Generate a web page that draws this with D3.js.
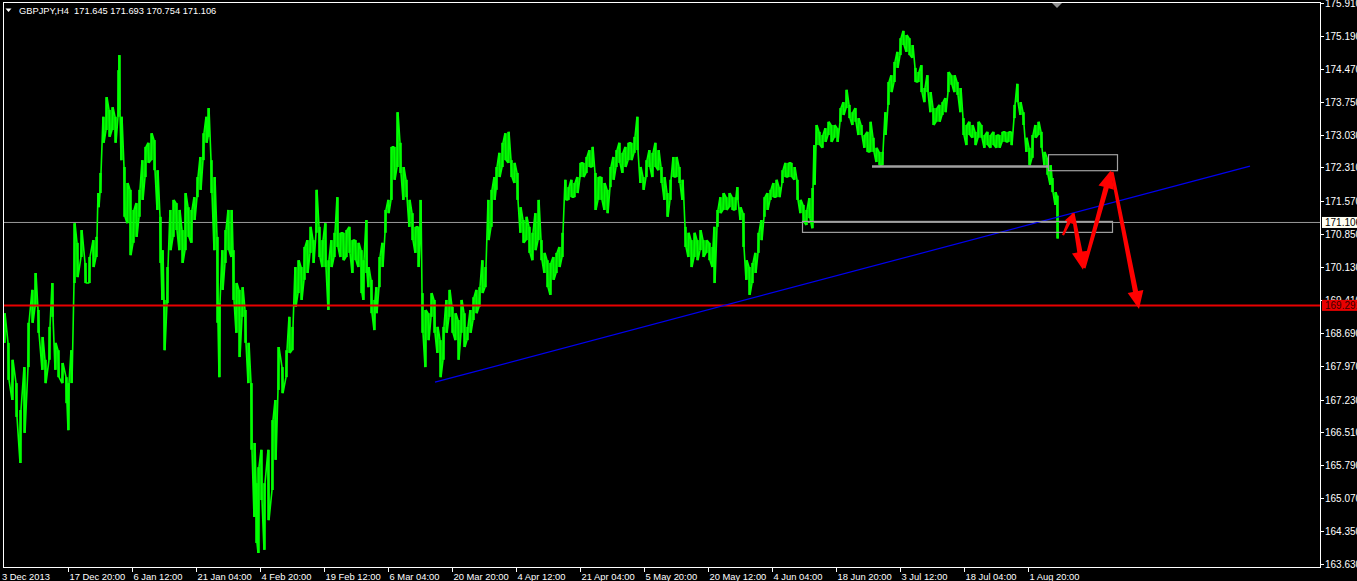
<!DOCTYPE html>
<html><head><meta charset="utf-8">
<script src="https://cdn.jsdelivr.net/npm/d3@7"></script>
<style>html,body{margin:0;padding:0;background:#000;overflow:hidden}</style>
</head><body><svg id="c" width="1357" height="581"></svg>
<script>
// ---------------- DATA ----------------
const titleText = "GBPJPY,H4  171.645 171.693 170.754 171.106";
const tickBars = [0,65,129,193,257,321,385,449,513,577,641,705,769,833,897,961,1025];
const tickLabels = ["3 Dec 2013","17 Dec 20:00","6 Jan 12:00","21 Jan 04:00","4 Feb 20:00","19 Feb 12:00","6 Mar 04:00","20 Mar 20:00","4 Apr 12:00","21 Apr 04:00","5 May 20:00","20 May 12:00","4 Jun 04:00","18 Jun 20:00","3 Jul 12:00","18 Jul 04:00","1 Aug 20:00"];
const priceTicks = [175.910,175.190,174.470,173.750,173.030,172.310,171.570,170.850,170.130,169.410,168.690,167.970,167.230,166.510,165.790,165.070,164.350,163.630];
const priceMin = 163.63, priceMax = 175.91, barCount = 1317;

const bars = [1,5,9,13,17,21,25,29,32,35,39,42,46,49,52,55,59,63,65,68,71,74,78,82,86,90,93,95,97,100,103,106,109,112,115,116,118,121,124,127,130,133,136,139,142,145,148,151,154,157,159,161,164,167,170,173,176,179,182,185,188,191,194,197,200,203,205,208,211,214,216,219,222,225,228,230,233,236,239,242,245,248,251,253,255,258,261,265,269,272,275,279,283,286,289,292,295,298,301,304,307,310,313,316,319,322,325,328,331,334,337,340,343,346,349,352,355,358,360,363,365,368,371,373,376,379,382,385,388,391,394,397,400,403,406,409,412,415,417,419,422,425,428,431,434,437,440,443,446,449,452,455,458,461,464,467,470,473,476,479,482,485,488,491,493,496,499,502,505,508,511,514,517,520,523,526,529,532,535,538,541,544,547,550,553,556,559,562,565,568,571,574,577,580,583,586,589,592,595,598,601,604,607,610,613,616,619,622,625,628,631,634,637,640,643,646,649,652,655,658,661,664,667,670,673,676,679,682,685,688,691,694,697,700,703,706,709,711,714,717,720,723,726,729,732,734,737,740,743,746,749,752,755,758,761,764,767,770,773,776,779,782,785,788,791,794,797,800,803,806,809,811,813,816,819,822,825,828,831,834,837,840,843,846,849,852,855,858,861,864,867,870,873,876,879,882,885,888,891,894,897,900,903,906,909,912,915,918,921,924,927,930,933,936,939,942,945,948,951,954,957,960,963,966,969,972,975,978,981,984,987,990,993,996,999,1002,1005,1008,1011,1014,1017,1020,1023,1026,1029,1032,1035,1038,1041,1044,1047,1049,1052,1054];
const highs = [169.12,168.47,168.10,167.59,167.00,167.94,168.91,169.63,170.00,169.19,168.60,168.10,168.82,169.78,168.47,168.31,168.03,167.72,167.59,168.31,171.09,170.66,170.94,170.22,170.35,170.72,170.79,171.75,172.19,173.42,173.85,173.57,173.63,173.42,174.44,174.77,173.42,172.32,171.97,171.82,171.38,171.53,171.82,172.47,172.76,172.85,173.06,172.91,172.25,171.23,170.50,169.41,170.13,171.38,171.60,171.53,171.38,170.94,171.75,171.44,171.38,171.66,172.10,172.54,173.06,173.42,173.61,172.47,172.10,170.79,169.34,170.50,170.94,171.38,171.38,170.50,169.78,169.63,169.69,169.19,168.47,167.59,166.28,165.40,165.75,166.13,165.40,166.13,166.78,167.22,168.38,167.94,168.31,169.04,168.82,170.13,170.28,170.13,170.57,170.72,171.01,170.72,171.82,171.01,170.72,171.09,170.28,170.72,170.88,171.66,170.88,170.88,170.94,171.01,170.72,170.72,170.66,170.50,170.28,171.16,170.13,169.85,169.41,169.69,170.35,170.66,171.38,171.60,172.76,172.76,173.52,172.85,172.32,172.04,171.60,171.31,171.01,171.01,171.60,169.56,169.19,169.12,169.56,169.41,168.82,168.53,168.82,169.41,169.63,169.26,169.12,168.97,169.41,169.12,168.82,169.19,169.47,169.63,169.69,170.28,170.13,171.60,171.82,172.10,172.32,172.63,172.85,173.06,173.09,172.47,172.41,172.19,171.44,171.16,171.23,171.01,170.88,171.31,171.60,170.72,170.44,170.28,170.22,170.35,170.44,170.57,170.88,172.04,171.88,172.04,171.97,172.10,172.41,172.41,172.54,172.69,172.76,172.19,172.10,172.10,171.97,171.82,172.32,172.54,172.69,172.85,172.63,172.76,172.85,172.85,172.98,173.42,172.32,172.10,172.47,172.69,172.63,172.85,172.69,172.32,172.10,171.75,172.04,172.54,172.54,172.32,172.04,171.01,170.88,170.72,170.88,170.72,170.94,170.72,170.72,170.66,170.57,171.01,171.38,171.66,171.75,171.66,171.75,171.66,171.66,171.88,171.44,171.31,170.28,170.13,170.22,170.44,170.88,171.16,171.66,171.75,171.82,171.97,172.04,171.88,172.25,172.41,172.41,172.41,172.32,172.04,171.60,171.49,171.38,171.64,171.86,172.80,173.24,173.09,173.02,173.17,173.31,173.24,173.24,173.17,173.61,173.74,174.01,173.68,173.52,173.61,173.39,173.24,173.02,173.09,173.31,172.96,172.74,172.65,172.65,173.52,174.18,174.33,174.62,174.84,175.14,175.30,175.21,175.14,174.99,174.49,174.40,174.55,174.05,174.33,173.96,173.61,173.61,173.68,173.74,173.83,174.40,174.33,174.33,174.18,174.05,173.39,173.24,173.31,173.24,173.09,173.31,173.24,173.02,173.09,173.02,173.09,173.02,173.02,173.09,173.09,173.09,173.09,173.68,174.14,173.74,173.52,172.96,172.74,173.02,173.24,173.31,173.09,172.65,172.52,172.36,172.08,171.77,171.693];
const lows = [168.47,167.66,167.22,166.85,165.84,166.50,167.94,168.91,169.26,168.69,167.88,167.59,168.10,169.04,167.88,167.72,167.59,167.15,166.56,167.59,169.78,169.91,170.35,169.78,169.78,170.13,170.35,171.44,171.75,172.85,173.13,172.98,173.13,172.85,173.42,173.57,172.47,171.23,171.09,170.39,170.66,170.79,171.23,171.60,172.10,172.41,172.47,172.25,171.38,170.22,169.41,168.31,169.34,170.50,170.79,170.94,170.50,170.22,170.50,170.79,170.66,171.16,171.66,171.82,172.47,172.85,172.98,171.75,170.50,168.91,167.72,169.63,170.22,170.50,170.35,169.41,168.69,168.16,169.04,168.47,167.59,166.13,164.66,164.09,163.87,165.03,163.94,164.59,165.25,165.91,167.44,167.37,167.72,168.25,168.31,169.26,169.56,169.41,169.85,170.00,170.44,170.22,170.88,170.35,170.13,170.13,169.19,170.13,170.35,170.57,170.35,170.28,170.35,170.44,170.00,170.28,170.13,169.56,169.41,170.00,169.69,169.12,168.75,169.12,169.69,170.13,170.88,171.31,171.60,172.04,172.32,172.19,171.60,171.66,171.01,170.72,170.44,170.13,170.72,168.69,167.94,168.53,169.04,168.69,168.25,167.72,168.10,168.69,169.04,168.69,168.53,168.10,168.69,168.38,168.53,168.69,168.97,169.12,169.26,169.56,169.69,170.72,171.01,171.60,171.82,172.10,172.32,172.47,172.41,172.10,171.97,171.60,170.88,170.66,170.72,170.44,170.28,170.50,170.72,170.28,170.00,169.69,169.52,169.85,170.00,170.13,170.35,171.60,171.60,171.66,171.66,171.75,172.10,172.10,172.19,172.32,172.32,171.38,171.60,171.60,171.38,171.31,171.88,172.04,172.32,172.41,172.19,172.32,172.47,172.47,172.63,172.69,171.97,171.82,172.10,172.32,172.10,172.32,172.25,171.97,171.60,171.23,171.60,172.10,172.10,171.97,171.60,170.57,170.35,170.13,170.35,170.28,170.50,170.35,170.44,170.28,170.13,169.78,171.01,171.31,171.38,171.38,171.44,171.38,171.38,171.60,171.16,170.57,169.85,169.52,169.78,170.00,170.44,170.72,171.23,171.38,171.60,171.66,171.66,171.66,171.97,172.10,172.10,172.10,172.04,171.60,171.31,171.12,171.05,171.20,170.98,171.93,172.80,172.80,172.74,172.87,173.02,172.87,172.96,172.87,173.31,173.46,173.61,173.39,173.24,173.31,173.02,173.02,172.74,172.65,172.65,172.65,172.43,172.36,172.36,173.02,173.68,173.96,174.18,174.49,174.77,174.99,174.84,174.77,174.71,174.18,174.18,173.96,173.74,173.96,173.52,173.24,173.31,173.31,173.46,173.52,173.96,174.12,173.96,173.90,173.52,173.02,172.80,173.02,172.96,172.80,172.96,172.96,172.74,172.80,172.74,172.80,172.74,172.74,172.87,172.87,172.87,172.80,173.39,173.74,173.46,173.24,172.65,172.36,172.52,172.96,173.02,172.74,172.36,172.15,171.93,171.77,171.49,170.754];

const lastPrice = 171.106;
const targetPrice = 169.291;
const trendLine = [[432,167.61],[1247,172.34]];
const supportLine = [[869,172.33],[1045,172.33]];
const zoneUpper = [[1045,172.60],[1114,172.25]];
const zoneLower = [[799,171.14],[1109,170.90]];
const arrowFrom = [[1060,170.83],[1070,171.31],[1081,170.11],[1109,172.21]];
const arrowTo   = [[1070,171.31],[1080,170.07],[1108,172.25],[1136,169.21]];

// ---------------- DRAW ----------------
const W = 1357, H = 581;
const L = 3, R = 1320, T = 2, B = 567;
const svg = d3.select("#c");
svg.append("rect").attr("width",W).attr("height",H).attr("fill","#000");

const x = d3.scaleLinear().domain([0, barCount]).range([L, R]);
const y = d3.scaleLinear().domain([priceMin, priceMax]).range([564, 3]);
const font = "'Liberation Sans', Arial, sans-serif";

svg.append("clipPath").attr("id","plot").append("rect")
  .attr("x",L).attr("y",T).attr("width",R-L).attr("height",B-T);
const g = svg.append("g").attr("clip-path","url(#plot)");

// last price line (grey)
g.append("line").attr("x1",L).attr("x2",R).attr("y1",y(lastPrice)).attr("y2",y(lastPrice))
  .attr("stroke","#9a9a9a").attr("stroke-width",1);

// price series: zigzag through high/low of each sample + range bars
const pts = bars.map((b,i)=>({b, h:highs[i], l:lows[i]}));
const zz = [];
pts.forEach((d,i)=>{
  if (i%2===0){ zz.push([x(d.b), y(d.l)]); zz.push([x(d.b)+1, y(d.h)]); }
  else { zz.push([x(d.b), y(d.h)]); zz.push([x(d.b)+1, y(d.l)]); }
});
g.append("path").attr("d", d3.line()(zz))
  .attr("fill","none").attr("stroke","#00ff00").attr("stroke-width",1.6).attr("stroke-linejoin","bevel");
g.selectAll("line.bar").data(pts).enter().append("line").attr("class","bar")
  .attr("x1",d=>x(d.b)+0.5).attr("x2",d=>x(d.b)+0.5).attr("y1",d=>y(d.h)).attr("y2",d=>y(d.l))
  .attr("stroke","#00ff00").attr("stroke-width",2.6);

// target red line
g.append("line").attr("x1",L).attr("x2",R).attr("y1",y(targetPrice)).attr("y2",y(targetPrice))
  .attr("stroke","#e80000").attr("stroke-width",2);

// trend line
g.append("line").attr("x1",x(trendLine[0][0])).attr("y1",y(trendLine[0][1]))
  .attr("x2",x(trendLine[1][0])).attr("y2",y(trendLine[1][1]))
  .attr("stroke","#0000f0").attr("stroke-width",1.2);

// support segment
g.append("line").attr("x1",x(supportLine[0][0])).attr("y1",y(supportLine[0][1]))
  .attr("x2",x(supportLine[1][0])).attr("y2",y(supportLine[1][1]))
  .attr("stroke","#a0a0a0").attr("stroke-width",2.5);

// zones
[zoneUpper, zoneLower].forEach(z=>{
  g.append("rect").attr("x",x(z[0][0])+0.5).attr("y",y(z[0][1])+0.5)
    .attr("width",x(z[1][0])-x(z[0][0])).attr("height",y(z[1][1])-y(z[0][1]))
    .attr("fill","none").attr("stroke","#a0a0a0").attr("stroke-width",1.2);
});

// arrows
arrowFrom.forEach((f,i)=>{
  const t = arrowTo[i];
  const x1=x(f[0]), y1=y(f[1]), x2=x(t[0]), y2=y(t[1]);
  const dx=x2-x1, dy=y2-y1, len=Math.hypot(dx,dy);
  const ux=dx/len, uy=dy/len, nx=-uy, ny=ux;
  const small = len < 40;
  const sw = small ? 1.8 : 2.6;
  const hw = small ? 4.5 : 8;
  const hl = small ? 10 : 18;
  const bx=x2-ux*hl, by=y2-uy*hl;
  const poly = [
    [x1+nx*sw*0.6, y1+ny*sw*0.6],
    [bx+nx*sw, by+ny*sw],
    [bx+nx*hw, by+ny*hw],
    [x2, y2],
    [bx-nx*hw, by-ny*hw],
    [bx-nx*sw, by-ny*sw],
    [x1-nx*sw*0.6, y1-ny*sw*0.6]
  ];
  svg.append("path").attr("d", d3.line()(poly)+"Z").attr("fill","#ff0000");
});

// frame
svg.append("rect").attr("x",L+0.5).attr("y",T+0.5).attr("width",R-L).attr("height",B-T)
  .attr("fill","none").attr("stroke","#ffffff").attr("stroke-width",1);

// right axis
const yAxis = svg.append("g");
priceTicks.forEach(p=>{
  const yy = Math.round(y(p))+0.5;
  yAxis.append("line").attr("x1",R).attr("x2",R+4).attr("y1",yy).attr("y2",yy).attr("stroke","#fff");
  yAxis.append("text").attr("x",R+5).attr("y",yy).attr("dy","0.35em")
    .attr("fill","#fff").attr("font-family",font).attr("font-size","10px").text(p.toFixed(3));
});
function priceBox(p, bg, fg){
  const yy = y(p);
  svg.append("rect").attr("x",R+2).attr("y",yy-5.5).attr("width",W-R-2).attr("height",11).attr("fill",bg);
  svg.append("text").attr("x",R+5).attr("y",yy).attr("dy","0.35em").attr("fill",fg)
    .attr("font-family",font).attr("font-size","10px").text(p.toFixed(3));
}
priceBox(lastPrice, "#fffff4", "#000");
priceBox(targetPrice, "#e80000", "#3a0000");

// bottom axis
tickBars.forEach((b,i)=>{
  const xx = Math.round(x(b))+0.5;
  if (i>0) svg.append("line").attr("x1",xx).attr("x2",xx).attr("y1",B).attr("y2",B+5).attr("stroke","#fff");
  svg.append("text").attr("x",i===0? 2 : xx+1).attr("y",579.5)
    .attr("fill","#fff").attr("font-family",font).attr("font-size","9.4px").text(tickLabels[i]);
});

// title
svg.append("path").attr("d","M5.5,8.5 L11.5,8.5 L8.5,12 Z").attr("fill","#fff");
svg.append("text").attr("x",19).attr("y",14).attr("fill","#fff")
  .attr("font-family",font).attr("font-size","9.3px").style("white-space","pre").text(titleText);

// shift marker triangle at top
svg.append("path").attr("d","M1052,3 L1062,3 L1057,8 Z").attr("fill","#909090");
</script>
</body></html>
